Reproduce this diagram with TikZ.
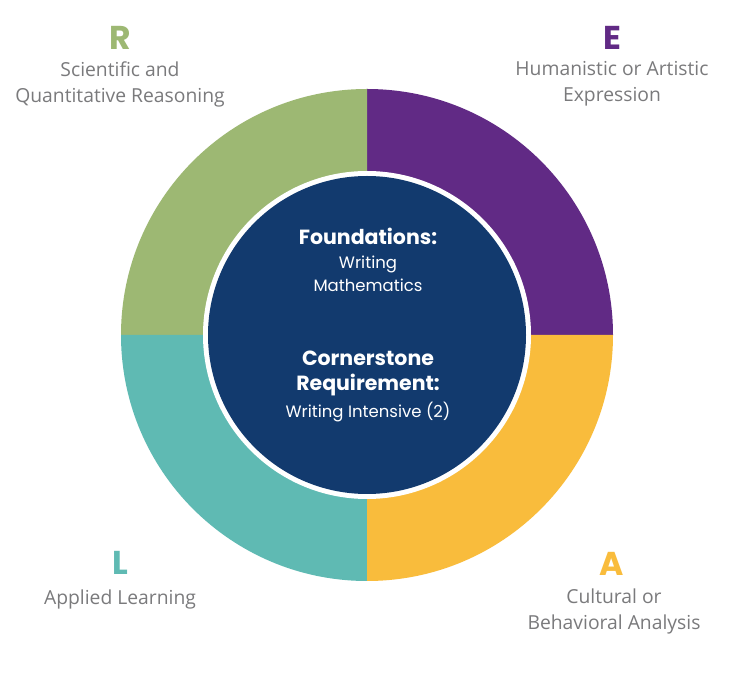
\documentclass[tikz,border=0pt]{standalone}
\usepackage{fontspec}
\setmainfont{Open Sans}
\newfontfamily\headfont{Poppins}
\definecolor{cgreen}{HTML}{9DB873}
\definecolor{cpurple}{HTML}{612A85}
\definecolor{cyellow}{HTML}{F9BC3C}
\definecolor{cteal}{HTML}{5FBAB3}
\definecolor{cnavy}{HTML}{123A6E}
\definecolor{cgray}{HTML}{7A7A7C}
\tikzset{
  letter/.style={font=\headfont\bfseries\fontsize{33}{33}\selectfont, inner sep=0pt, anchor=center},
  label/.style={font=\fontsize{19.3}{26}\selectfont, text=cgray, align=center, inner sep=0pt, anchor=center},
  headtxt/.style={font=\headfont\bfseries\fontsize{20.5}{25}\selectfont, text=white, align=center, inner sep=0pt},
  bodytxt/.style={font=\headfont\fontsize{16.5}{23}\selectfont, text=white, align=center, inner sep=0pt},
}
\begin{document}
\begin{tikzpicture}[x=1pt,y=1pt]
\useasboundingbox (0,0) rectangle (756,678);
\fill[white] (0,0) rectangle (756,678);
\coordinate (c) at (367,343);
% quadrants
\fill[cpurple] (c) -- ++(0:246) arc[start angle=0, end angle=90, radius=246] -- cycle;
\fill[cgreen] (c) -- ++(90:246) arc[start angle=90, end angle=180, radius=246] -- cycle;
\fill[cteal] (c) -- ++(180:246) arc[start angle=180, end angle=270, radius=246] -- cycle;
\fill[cyellow] (c) -- ++(270:246) arc[start angle=270, end angle=360, radius=246] -- cycle;
% inner circle
\fill[white] (c) circle[radius=164];
\fill[cnavy] (c) circle[radius=159];
% inner text
\node[headtxt] (found) at (368,442) {Foundations:};
\node[bodytxt] (wm) at (368,404.5) {Writing\\Mathematics};
\node[headtxt] (corner) at (368,304.5) {Cornerstone\\Requirement:};
\node[bodytxt] (wi) at (368,266) {Writing Intensive (2)};
% outer labels
\node[letter, text=cgreen] (R) at (120,640) {R};
\node[label] (Rt) at (120,594) {Scientific and\\Quantitative Reasoning};
\node[letter, text=cpurple] (E) at (612,640) {E};
\node[label] (Et) at (612,594) {Humanistic or Artistic\\Expression};
\node[letter, text=cteal] (L) at (120,115) {L};
\node[label] (Lt) at (120,79) {Applied Learning};
\node[letter, text=cyellow] (A) at (612,114) {A};
\node[label] (At) at (614,67) {Cultural or\\Behavioral Analysis};
\end{tikzpicture}
\end{document}
